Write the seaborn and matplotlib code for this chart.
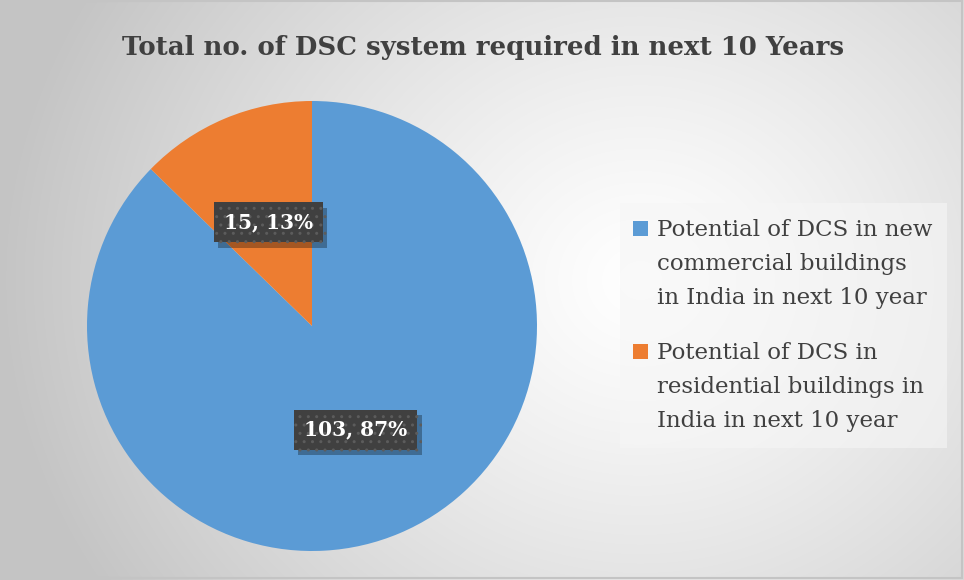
import numpy as np
import matplotlib
matplotlib.use("Agg")
import matplotlib.pyplot as plt
import matplotlib.patheffects as pe
from matplotlib.patches import Rectangle
import seaborn as sns

# ---- data ----
categories = ["Potential of DCS in new\ncommercial buildings\nin India in next 10 year",
              "Potential of DCS in\nresidential buildings in\nIndia in next 10 year"]
values = [103, 15]
colors = ["#5B9BD5", "#ED7D31"]
title = "Total no. of DSC system required in next 10 Years"

sns.set_theme(style="white")
plt.rcParams['font.family'] = ['DejaVu Serif']

W, H = 964, 580
fig = plt.figure(figsize=(W / 100, H / 100), dpi=100)

# background radial gradient
bg = fig.add_axes([0, 0, 1, 1], zorder=-10)
yy, xx = np.mgrid[0:H, 0:W]
d = np.sqrt(((xx - 640) / 1.0) ** 2 + ((yy - 280) / 0.9) ** 2)
g = np.clip(d / 640, 0, 1)
val = 1.0 - 0.23 * g ** 1.2
img = np.dstack([val, val, val])
bg.imshow(img, extent=[0, W, H, 0], aspect='auto')
bg.set_xlim(0, W)
bg.set_ylim(H, 0)
bg.add_patch(Rectangle((1, 1), W - 3, H - 3, fill=False, edgecolor="#c4c4c4", lw=1.5))

# legend (drawn manually so each marker aligns with the first line of its label)
bg.add_patch(Rectangle((620, 203), 327, 245, facecolor="#f6f6f6", alpha=0.6, edgecolor="none"))
legend_block_centers = [264, 387]
for i, (lab, c) in enumerate(zip(categories, colors)):
    yc = legend_block_centers[i]
    bg.add_patch(Rectangle((633, yc - 43), 15, 15, facecolor=c, edgecolor="none"))
    bg.text(657, yc, lab, ha='left', va='center', fontsize=16.5, color="#404040",
            linespacing=1.72)
bg.axis('off')

# pie axes
cx, cy, r = 312, 326, 225
ax = fig.add_axes([(cx - r) / W, (H - cy - r) / H, 2 * r / W, 2 * r / H])
total = sum(values)

def fmt(p):
    v = int(round(p * total / 100.0))
    return f"{v}, {p:.0f}%"

wedges, texts, autotexts = ax.pie(values, colors=colors, startangle=90, counterclock=False,
                                  autopct=fmt, pctdistance=0.5,
                                  wedgeprops=dict(edgecolor="none", linewidth=0),
                                  textprops=dict(color="white", fontsize=14.5, fontweight="bold"))
ax.set_xlim(-1, 1)
ax.set_ylim(-1, 1)
ax.set_aspect('equal')
for t in autotexts:
    t.set_bbox(dict(boxstyle="square,pad=0.5", facecolor="#404040", edgecolor="#5c5c5c", linewidth=0))
    bp = t.get_bbox_patch()
    bp.set_hatch('..')
    bp.set_path_effects([pe.SimplePatchShadow(offset=(3, -4), shadow_rgbFace="#000000", alpha=0.3), pe.Normal()])

# title
fig.text(483 / W, 1 - 47 / H, title, ha='center', va='center', fontsize=18.7, fontweight='bold', color="#404040")

fig.savefig("out.png", dpi=100)
